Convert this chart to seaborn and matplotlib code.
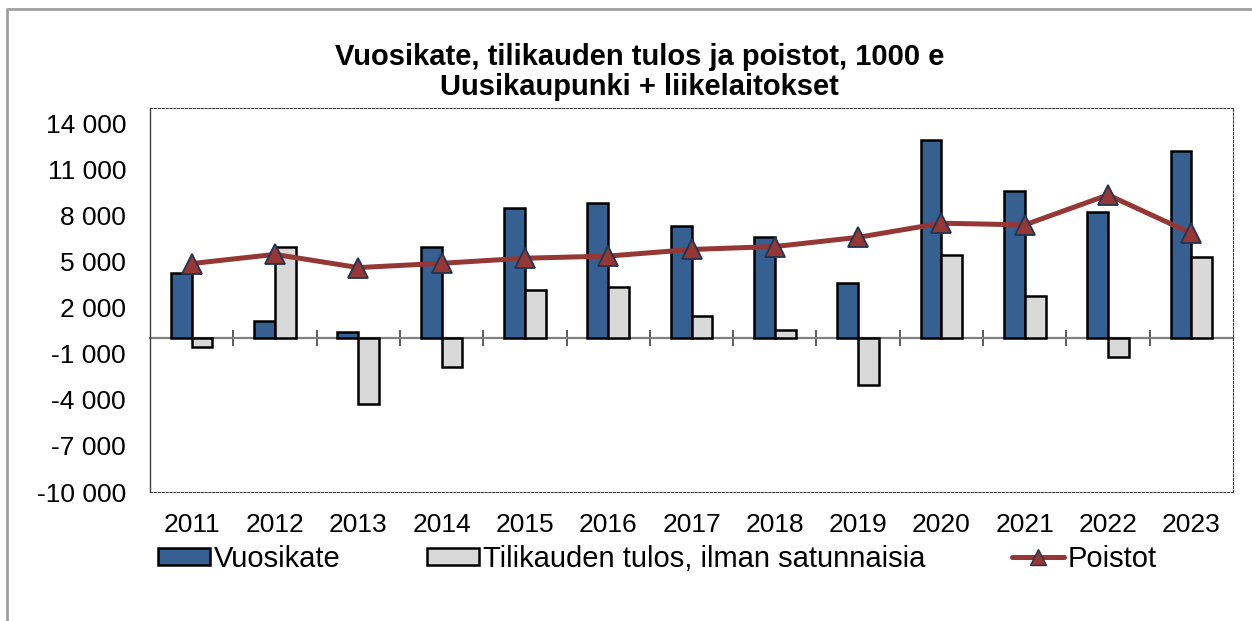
import numpy as np
import pandas as pd
import seaborn as sns
import matplotlib.pyplot as plt
from matplotlib.patches import Patch
from matplotlib.lines import Line2D
from matplotlib.ticker import FuncFormatter

years = ['2011', '2012', '2013', '2014', '2015', '2016', '2017',
         '2018', '2019', '2020', '2021', '2022', '2023']
vuosikate = [4270, 1110, 415, 5940, 8480, 8800, 7350, 6630, 3630, 12890, 9610, 8200, 12200]
tulos = [-550, 5980, -4260, -1890, 3130, 3370, 1480, 570, -3040, 5440, 2785, -1195, 5310]
poistot = [4870, 5470, 4610, 4890, 5220, 5360, 5790, 5980, 6580, 7500, 7390, 9340, 6840]
yticks = [-10000, -7000, -4000, -1000, 2000, 5000, 8000, 11000, 14000]

series_names = ['Vuosikate', 'Tilikauden tulos, ilman satunnaisia', 'Poistot']
title_lines = ['Vuosikate, tilikauden tulos ja poistot, 1000 e', 'Uusikaupunki + liikelaitokset']

blue = '#376092'
light = '#D9D9D9'
red = '#953735'
navy = '#1F3552'

sns.set_style('white')
plt.rcParams['font.family'] = ['Liberation Sans', 'DejaVu Sans']
plt.rcParams['text.color'] = 'black'

df = pd.DataFrame({
    'Vuosi': years * 2,
    'Sarja': [series_names[0]] * len(years) + [series_names[1]] * len(years),
    'Arvo': vuosikate + tulos,
})

fig = plt.figure(figsize=(12.52, 6.21), dpi=100)
ax = fig.add_axes([150 / 1252, 1 - 492 / 621, 1083 / 1252, 384 / 621])

sns.barplot(data=df, x='Vuosi', y='Arvo', hue='Sarja', order=years,
            hue_order=series_names[:2], palette=[blue, light], saturation=1,
            width=0.5, edgecolor='black', linewidth=1.8, legend=False, ax=ax,
            zorder=3)

x = np.arange(len(years))
ax.plot(x, poistot, color=red, linewidth=3.6, marker='^', markersize=14,
        markerfacecolor=red, markeredgecolor=navy, markeredgewidth=1.3, zorder=5)

ax.set_ylim(-10000, 15000)
ax.set_xlim(-0.5, len(years) - 0.5)
ax.set_yticks(yticks)
ax.yaxis.set_major_formatter(FuncFormatter(lambda v, p: f'{v:,.0f}'.replace(',', ' ')))
ax.set_xlabel('')
ax.set_ylabel('')

for side in ['top', 'right', 'bottom']:
    ax.spines[side].set_linestyle((0, (2, 1.5)))
    ax.spines[side].set_linewidth(0.8)
    ax.spines[side].set_color('#404040')
ax.spines['left'].set_linewidth(1.0)
ax.spines['left'].set_color('#404040')

ax.tick_params(axis='y', direction='inout', length=12.5, width=1.2, color='#606060',
               labelsize=19, labelcolor='black', pad=11)
ax.tick_params(axis='x', length=0, labelsize=19, labelcolor='black', pad=15)

# category axis crossing at zero
secax = ax.secondary_xaxis(0, transform=ax.transData)
secax.set_xticks(np.arange(len(years) - 1) + 0.5)
secax.set_xticklabels([])
secax.tick_params(direction='inout', length=11.5, width=1.2, color='#404040')
secax.spines['bottom'].set_color('#808080')
secax.spines['bottom'].set_linewidth(1.6)

handles = [
    Patch(facecolor=blue, edgecolor='black', linewidth=1.8),
    Patch(facecolor=light, edgecolor='black', linewidth=1.8),
    Line2D([0], [0], color=red, linewidth=3.6, marker='^', markersize=11,
           markerfacecolor=red, markeredgecolor=navy),
]
leg = ax.legend(handles, series_names, loc='center left',
                bbox_to_anchor=(8 / 1083, -67 / 384), ncol=3, frameon=False,
                fontsize=21, handlelength=1.78, handleheight=0.55, handletextpad=0.15,
                columnspacing=2.95, borderpad=0, borderaxespad=0)
for t in leg.get_texts():
    t.set_color('black')

fig.text(0.511, 1 - 57 / 621, title_lines[0], ha='center', va='center',
         fontsize=21, fontweight='bold', color='black')
fig.text(0.511, 1 - 87 / 621, title_lines[1], ha='center', va='center',
         fontsize=21, fontweight='bold', color='black')

# outer chart frame (cropped at right and bottom)
fig.add_artist(Line2D([7 / 1252, 1.0], [1 - 9 / 621, 1 - 9 / 621],
                      transform=fig.transFigure, color='#A0A0A0', linewidth=2))
fig.add_artist(Line2D([7 / 1252, 7 / 1252], [0.0, 1 - 9 / 621],
                      transform=fig.transFigure, color='#A0A0A0', linewidth=2))

fig.savefig('out.png', dpi=100)
